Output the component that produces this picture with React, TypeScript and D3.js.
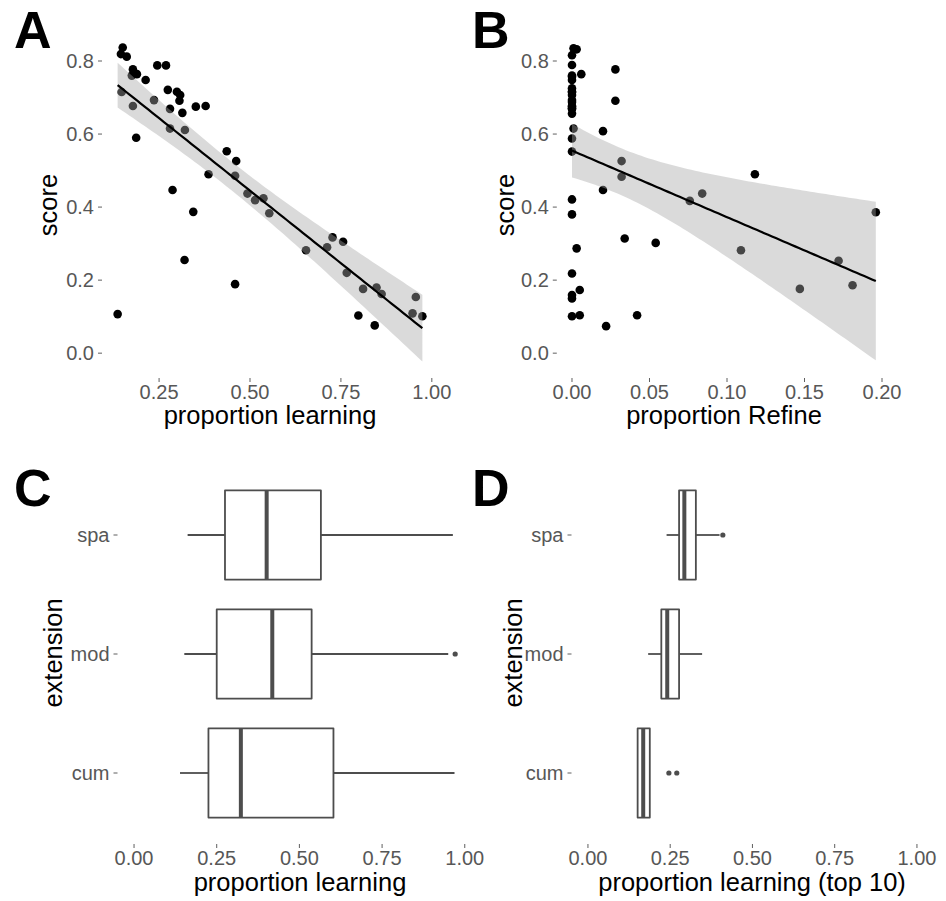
import React, { useRef, useEffect } from 'react';
import * as d3 from 'd3';

// Panel A: proportion of learning steps vs score
const learningA = [0.150, 0.145, 0.161, 0.178, 0.189, 0.175, 0.213, 0.245, 0.269, 0.147, 0.178, 0.236, 0.274, 0.299, 0.308, 0.306, 0.280, 0.314, 0.351, 0.378, 0.280, 0.321, 0.187, 0.436, 0.462, 0.386, 0.459, 0.493, 0.514, 0.537, 0.553, 0.287, 0.344, 0.320, 0.459, 0.136, 0.654, 0.712, 0.727, 0.756, 0.766, 0.811, 0.848, 0.862, 0.798, 0.843, 0.956, 0.947, 0.974];
const scoreA = [0.837, 0.819, 0.812, 0.777, 0.764, 0.760, 0.748, 0.788, 0.788, 0.715, 0.677, 0.693, 0.721, 0.716, 0.707, 0.691, 0.669, 0.658, 0.675, 0.677, 0.615, 0.611, 0.590, 0.553, 0.526, 0.490, 0.486, 0.437, 0.419, 0.424, 0.383, 0.447, 0.387, 0.255, 0.189, 0.107, 0.282, 0.290, 0.317, 0.305, 0.220, 0.176, 0.180, 0.162, 0.103, 0.076, 0.154, 0.109, 0.101];

// Panel B: proportion of Refine steps vs score
const refineB = [0.001, 0.003, 0, 0, 0.006, 0, 0, 0, 0, 0, 0, 0.028, 0.028, 0.001, 0.020, 0, 0, 0.032, 0.032, 0.020, 0.118, 0.076, 0.084, 0.196, 0, 0, 0.034, 0.054, 0.003, 0.109, 0, 0.005, 0, 0, 0.147, 0.172, 0.181, 0, 0.005, 0.022, 0.042, 0, 0, 0, 0, 0, 0, 0, 0];
const scoreB = [0.835, 0.832, 0.816, 0.789, 0.764, 0.757, 0.725, 0.707, 0.688, 0.670, 0.656, 0.777, 0.691, 0.615, 0.608, 0.588, 0.552, 0.526, 0.483, 0.447, 0.490, 0.417, 0.437, 0.386, 0.421, 0.380, 0.314, 0.302, 0.287, 0.282, 0.218, 0.173, 0.159, 0.150, 0.176, 0.253, 0.186, 0.101, 0.104, 0.074, 0.104, 0.748, 0.716, 0.715, 0.693, 0.677, 0.675, 0.669, 0.760];

// Panels C and D: box stats per extension
const extensions = ['spa', 'mod', 'cum'];

const learnLo = [0.162, 0.152, 0.139];
const learnQ1 = [0.275, 0.250, 0.225];
const learnMed = [0.401, 0.418, 0.323];
const learnQ3 = [0.565, 0.537, 0.603];
const learnHi = [0.964, 0.950, 0.969];
const learnOut = [[], [0.971], []];

const topLo = [0.239, 0.183, 0.151];
const topQ1 = [0.277, 0.223, 0.151];
const topMed = [0.293, 0.241, 0.168];
const topQ3 = [0.328, 0.277, 0.188];
const topHi = [0.400, 0.347, 0.188];
const topOut = [[0.41], [], [0.246, 0.27]];

const FONT = '"Liberation Sans", Arial, Helvetica, sans-serif';
const GREY = '#4d4d4d';
const TICK_TEXT = '#575757';

// ordinary least squares fit + 95% confidence band (like geom_smooth(method = "lm"))
function lmBand(xs: number[], ys: number[]) {
  const n = xs.length;
  const mx = d3.mean(xs) as number;
  const my = d3.mean(ys) as number;
  const sxx = d3.sum(xs, x => (x - mx) ** 2);
  const sxy = d3.sum(xs, (x, i) => (x - mx) * (ys[i] - my));
  const b = sxy / sxx;
  const a = my - b * mx;
  const s = Math.sqrt(d3.sum(xs, (x, i) => (ys[i] - a - b * x) ** 2) / (n - 2));
  const t = 2.01;
  const [x0, x1] = d3.extent(xs) as [number, number];
  return d3.range(80).map(i => {
    const x = x0 + (x1 - x0) * i / 79;
    const fit = a + b * x;
    const se = s * Math.sqrt(1 / n + (x - mx) ** 2 / sxx);
    return { x, fit, lo: fit - t * se, hi: fit + t * se };
  });
}

const App = () => {
  const svgRef = useRef(null);

  useEffect(() => {
    const svg = d3.select(svgRef.current);
    svg.selectAll('*').remove();

    const xAxis = (scale, ticks, fmt, y0) => {
      const g = svg.append('g');
      ticks.forEach(t => {
        g.append('line')
          .attr('x1', scale(t)).attr('x2', scale(t))
          .attr('y1', y0).attr('y2', y0 + 4)
          .attr('stroke', GREY).attr('stroke-width', 0.9);
        g.append('text')
          .attr('x', scale(t)).attr('y', y0 + 21)
          .attr('text-anchor', 'middle')
          .attr('font-family', FONT).attr('font-size', 20)
          .attr('fill', TICK_TEXT)
          .text(fmt(t));
      });
    };

    const yAxis = (scale, ticks, fmt, x0) => {
      const g = svg.append('g');
      ticks.forEach(t => {
        g.append('line')
          .attr('x1', x0 - 4).attr('x2', x0)
          .attr('y1', scale(t)).attr('y2', scale(t))
          .attr('stroke', GREY).attr('stroke-width', 0.9);
        g.append('text')
          .attr('x', x0 - 8).attr('y', scale(t))
          .attr('dy', '0.36em')
          .attr('text-anchor', 'end')
          .attr('font-family', FONT).attr('font-size', 20)
          .attr('fill', TICK_TEXT)
          .text(fmt(t));
      });
    };

    const title = (text, x, y, rotate = false) => {
      svg.append('text')
        .attr('transform', rotate ? `translate(${x},${y}) rotate(-90)` : `translate(${x},${y})`)
        .attr('text-anchor', 'middle')
        .attr('font-family', FONT).attr('font-size', 25.5)
        .attr('fill', '#000')
        .text(text);
    };

    const letter = (text, x, y) => {
      svg.append('text')
        .attr('x', x).attr('y', y)
        .attr('font-family', FONT).attr('font-size', 52)
        .attr('font-weight', 'bold')
        .attr('fill', '#000')
        .text(text);
    };

    // scatter with lm smooth
    const scatter = (xs, ys, x, y) => {
      const g = svg.append('g');
      g.selectAll('circle')
        .data(xs)
        .enter()
        .append('circle')
        .attr('cx', d => x(d))
        .attr('cy', (d, i) => y(ys[i]))
        .attr('r', 4.3)
        .attr('fill', '#000');

      const band = lmBand(xs, ys);
      g.append('path')
        .datum(band)
        .attr('d', d3.area().x(d => x(d.x)).y0(d => y(d.lo)).y1(d => y(d.hi)))
        .attr('fill', '#a6a6a6')
        .attr('fill-opacity', 0.42);
      g.append('path')
        .datum(band)
        .attr('d', d3.line().x(d => x(d.x)).y(d => y(d.fit)))
        .attr('fill', 'none')
        .attr('stroke', '#000')
        .attr('stroke-width', 2.2);
    };

    // horizontal boxplots
    const boxes = (x, y, lo, q1, med, q3, hi, out) => {
      const g = svg.append('g');
      const half = 44.6;
      extensions.forEach((cat, i) => {
        const cy = y(cat);
        g.append('line')
          .attr('x1', x(lo[i])).attr('x2', x(q1[i]))
          .attr('y1', cy).attr('y2', cy)
          .attr('stroke', GREY).attr('stroke-width', 1.8);
        g.append('line')
          .attr('x1', x(q3[i])).attr('x2', x(hi[i]))
          .attr('y1', cy).attr('y2', cy)
          .attr('stroke', GREY).attr('stroke-width', 1.8);
        g.append('rect')
          .attr('x', x(q1[i])).attr('y', cy - half)
          .attr('width', x(q3[i]) - x(q1[i])).attr('height', half * 2)
          .attr('fill', '#fff')
          .attr('stroke', GREY).attr('stroke-width', 1.8)
          .attr('stroke-linejoin', 'round');
        g.append('line')
          .attr('x1', x(med[i])).attr('x2', x(med[i]))
          .attr('y1', cy - half).attr('y2', cy + half)
          .attr('stroke', GREY).attr('stroke-width', 4);
        g.selectAll(null)
          .data(out[i])
          .enter()
          .append('circle')
          .attr('cx', d => x(d))
          .attr('cy', cy)
          .attr('r', 2.6)
          .attr('fill', GREY);
      });
    };

    // A
    const xA = d3.scaleLinear().domain([0.093, 1.017]).range([102, 438]);
    const yAB = d3.scaleLinear().domain([-0.068, 0.88]).range([378, 31.8]);
    scatter(learningA, scoreA, xA, yAB);
    xAxis(xA, [0.25, 0.5, 0.75, 1], d3.format('.2f'), 378);
    yAxis(yAB, [0, 0.2, 0.4, 0.6, 0.8], d3.format('.1f'), 102);
    title('proportion learning', 270, 424);
    title('score', 57, 205, true);
    letter('A', 14, 48);

    // B
    const xB = d3.scaleLinear().domain([-0.0098, 0.2058]).range([556.8, 891]);
    scatter(refineB, scoreB, xB, yAB);
    xAxis(xB, [0, 0.05, 0.1, 0.15, 0.2], d3.format('.2f'), 378);
    yAxis(yAB, [0, 0.2, 0.4, 0.6, 0.8], d3.format('.1f'), 556.8);
    title('proportion Refine', 724, 424);
    title('score', 514, 205, true);
    letter('B', 472, 48);

    // C
    const xC = d3.scaleLinear().domain([-0.05, 1.05]).range([117.5, 481.3]);
    const yCD = d3.scalePoint().domain(extensions).range([535, 773]);
    boxes(xC, yCD, learnLo, learnQ1, learnMed, learnQ3, learnHi, learnOut);
    xAxis(xC, [0, 0.25, 0.5, 0.75, 1], d3.format('.2f'), 844);
    yAxis(yCD, extensions, d => d, 117.5);
    title('proportion learning', 300, 891);
    title('extension', 62, 653, true);
    letter('C', 14, 506);

    // D
    const xD = d3.scaleLinear().domain([-0.05, 1.05]).range([571.5, 933.4]);
    boxes(xD, yCD, topLo, topQ1, topMed, topQ3, topHi, topOut);
    xAxis(xD, [0, 0.25, 0.5, 0.75, 1], d3.format('.2f'), 844);
    yAxis(yCD, extensions, d => d, 571.5);
    title('proportion learning (top 10)', 752, 891);
    title('extension', 522, 653, true);
    letter('D', 472, 506);
  }, []);

  return (
    <svg
      ref={svgRef}
      width={946}
      height={901}
      style={{ position: 'absolute', left: 0, top: 0, background: '#fff' }}
    ></svg>
  );
};

export default App;
